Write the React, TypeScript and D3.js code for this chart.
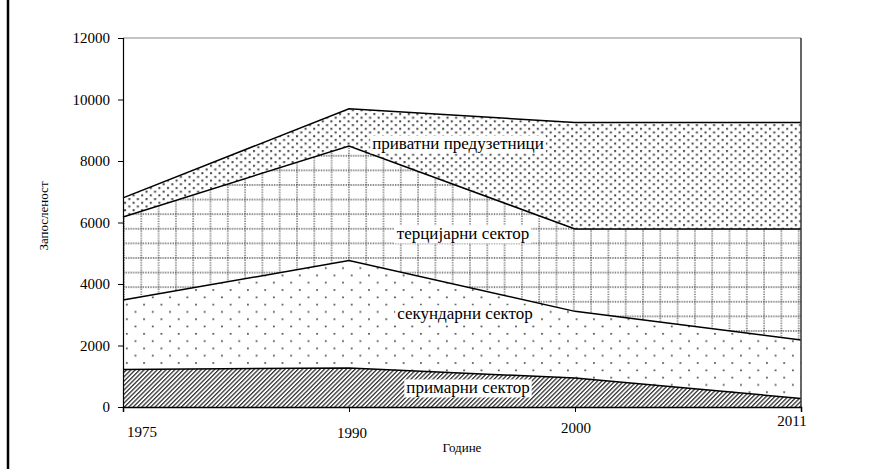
import { useEffect, useRef } from 'react';
import * as d3 from 'd3';

// Employment by sector, stacked (values per layer)
const YEARS      = ['1975', '1990', '2000', '2011'];
const SERIES     = ['primary', 'secondary', 'tertiary', 'private'];
const LABELS     = ['примарни сектор', 'секундарни сектор', 'терцијарни сектор', 'приватни предузетници'];
const PRIMARY    = [1220, 1270, 940, 280];
const SECONDARY  = [2260, 3490, 2170, 1900];
const TERTIARY   = [2700, 3730, 2680, 3610];
const PRIVATE    = [620, 1210, 3460, 3460];
const Y_TICKS    = [0, 2000, 4000, 6000, 8000, 10000, 12000];

const W = 876;
const H = 469;
const PLOT = { left: 123, right: 801, top: 38, bottom: 407 };
const FONT = 'Liberation Serif';

// Excel put the year labels a little off their ticks
const XLABEL_OFFSET = [
  { dx: 19, y: 437 },
  { dx: 3,  y: 438 },
  { dx: 1,  y: 433 },
  { dx: -9, y: 426 },
];
// label anchors (centre x, centre y) per series
const LABEL_POS = [
  { x: 468, y: 388 },
  { x: 465, y: 314 },
  { x: 463, y: 234 },
  { x: 458, y: 144 },
];

const TW = 17.3;   // base pattern cell
const TH = 14.6;

export default function App() {
  const ref = useRef<SVGSVGElement>(null);

  useEffect(() => {
    const svg = d3.select(ref.current);
    svg.selectAll('*').remove();

    const x = d3.scalePoint<string>().domain(YEARS).range([PLOT.left, PLOT.right]);
    const y = d3.scaleLinear().domain([0, 12000]).range([PLOT.bottom, PLOT.top]);

    const rows = YEARS.map((yr, i) => ({
      year: yr,
      primary: PRIMARY[i],
      secondary: SECONDARY[i],
      tertiary: TERTIARY[i],
      private: PRIVATE[i],
    }));
    const stacked = d3.stack<any>().keys(SERIES)(rows);

    // ── patterns ──
    const defs = svg.append('defs');

    const hatch = defs.append('pattern')
      .attr('id', 'p-primary').attr('patternUnits', 'userSpaceOnUse')
      .attr('width', 3.1).attr('height', 3.1)
      .attr('patternTransform', 'rotate(45)');
    hatch.append('rect').attr('width', 3.1).attr('height', 3.1).attr('fill', '#fff');
    hatch.append('rect').attr('width', 1.3).attr('height', 3.1).attr('fill', '#333');

    const sparse = defs.append('pattern')
      .attr('id', 'p-secondary').attr('patternUnits', 'userSpaceOnUse')
      .attr('x', PLOT.left).attr('y', PLOT.top)
      .attr('width', TW).attr('height', TH);
    sparse.append('rect').attr('width', TW).attr('height', TH).attr('fill', '#fff');
    sparse.append('rect').attr('x', 3).attr('y', 3).attr('width', 1.6).attr('height', 1.6).attr('fill', '#333');
    sparse.append('rect').attr('x', 3 + TW / 2).attr('y', 3 + TH / 2).attr('width', 1.6).attr('height', 1.6).attr('fill', '#333');

    const grid = defs.append('pattern')
      .attr('id', 'p-tertiary').attr('patternUnits', 'userSpaceOnUse')
      .attr('x', PLOT.left).attr('y', PLOT.top)
      .attr('width', TW).attr('height', TH);
    grid.append('rect').attr('width', TW).attr('height', TH).attr('fill', '#fff');
    grid.append('line').attr('x1', 0).attr('x2', TW).attr('y1', 1).attr('y2', 1)
      .attr('stroke', '#555').attr('stroke-width', 1.3).attr('stroke-dasharray', '1.3 1.2');
    grid.append('line').attr('x1', 1).attr('x2', 1).attr('y1', 0).attr('y2', TH)
      .attr('stroke', '#555').attr('stroke-width', 1.3).attr('stroke-dasharray', '1.3 1.2');

    const PW = 8.6, PH = 7.4;
    const dense = defs.append('pattern')
      .attr('id', 'p-private').attr('patternUnits', 'userSpaceOnUse')
      .attr('x', PLOT.left).attr('y', PLOT.top)
      .attr('width', PW).attr('height', PH);
    dense.append('rect').attr('width', PW).attr('height', PH).attr('fill', '#fff');
    dense.append('rect').attr('x', 1).attr('y', 1).attr('width', 2).attr('height', 2).attr('fill', '#444');
    dense.append('rect').attr('x', 1 + PW / 2).attr('y', 1 + PH / 2).attr('width', 2).attr('height', 2).attr('fill', '#444');

    // ── page frame line at the far left ──
    svg.append('line')
      .attr('x1', 8).attr('x2', 8).attr('y1', 0).attr('y2', H)
      .attr('stroke', '#000').attr('stroke-width', 2.5);

    // ── plot frame ──
    svg.append('line')
      .attr('x1', PLOT.left).attr('x2', PLOT.right).attr('y1', PLOT.top).attr('y2', PLOT.top)
      .attr('stroke', '#888').attr('stroke-width', 1);

    // ── areas ──
    const area = d3.area<any>()
      .x((d) => x(d.data.year)!)
      .y0((d) => y(d[0]))
      .y1((d) => y(d[1]));
    const top = d3.line<any>()
      .x((d) => x(d.data.year)!)
      .y((d) => y(d[1]));

    svg.append('g').selectAll('path')
      .data(stacked)
      .join('path')
      .attr('d', area)
      .attr('fill', (s) => `url(#p-${s.key})`);

    svg.append('g').selectAll('path')
      .data(stacked)
      .join('path')
      .attr('d', top)
      .attr('fill', 'none')
      .attr('stroke', '#000')
      .attr('stroke-width', 1.5);

    svg.append('line')
      .attr('x1', PLOT.right).attr('x2', PLOT.right).attr('y1', PLOT.top).attr('y2', PLOT.bottom)
      .attr('stroke', '#333').attr('stroke-width', 1.5);

    // ── axes ──
    const yAxis = svg.append('g')
      .attr('transform', `translate(${PLOT.left},0)`)
      .call(d3.axisLeft(y).tickValues(Y_TICKS).tickSize(5).tickPadding(8).tickFormat((d) => String(d)));
    yAxis.selectAll('text').style('font-family', FONT).style('font-size', '15px').attr('fill', '#000');
    yAxis.selectAll('line').attr('stroke', '#000');
    yAxis.select('.domain').attr('stroke', '#000').attr('stroke-width', 1.2);

    const xAxis = svg.append('g')
      .attr('transform', `translate(0,${PLOT.bottom})`)
      .call(d3.axisBottom(x).tickSize(5).tickFormat(() => ''));
    xAxis.selectAll('line').attr('stroke', '#000');
    xAxis.select('.domain').attr('stroke', '#000').attr('stroke-width', 1.5);

    svg.append('g').selectAll('text')
      .data(YEARS)
      .join('text')
      .attr('x', (d, i) => x(d)! + XLABEL_OFFSET[i].dx)
      .attr('y', (d, i) => XLABEL_OFFSET[i].y)
      .attr('text-anchor', 'middle')
      .style('font-family', FONT).style('font-size', '15px')
      .text((d) => d);

    // ── axis titles ──
    svg.append('text')
      .attr('transform', 'translate(48,216) rotate(-90)')
      .attr('text-anchor', 'middle')
      .style('font-family', FONT).style('font-size', '13px')
      .text('Запосленост');
    svg.append('text')
      .attr('x', 462).attr('y', 452)
      .attr('text-anchor', 'middle')
      .style('font-family', FONT).style('font-size', '13px')
      .text('Године');

    // ── in-band labels with white boxes ──
    const lab = svg.append('g');
    LABELS.forEach((t, i) => {
      const g = lab.append('g');
      const rect = g.append('rect').attr('fill', '#fff');
      const txt = g.append('text')
        .attr('x', LABEL_POS[i].x).attr('y', LABEL_POS[i].y)
        .attr('dy', '0.32em')
        .attr('text-anchor', 'middle')
        .style('font-family', FONT).style('font-size', '17px')
        .text(t);
      const bb = (txt.node() as SVGTextElement).getBBox();
      rect.attr('x', bb.x - 2).attr('y', bb.y + 1).attr('width', bb.width + 4).attr('height', bb.height - 1);
    });
  }, []);

  return (
    <div style={{ position: 'fixed', left: 0, top: 0, background: '#fff' }}>
      <svg ref={ref} width={W} height={H} style={{ display: 'block' }} />
    </div>
  );
}
